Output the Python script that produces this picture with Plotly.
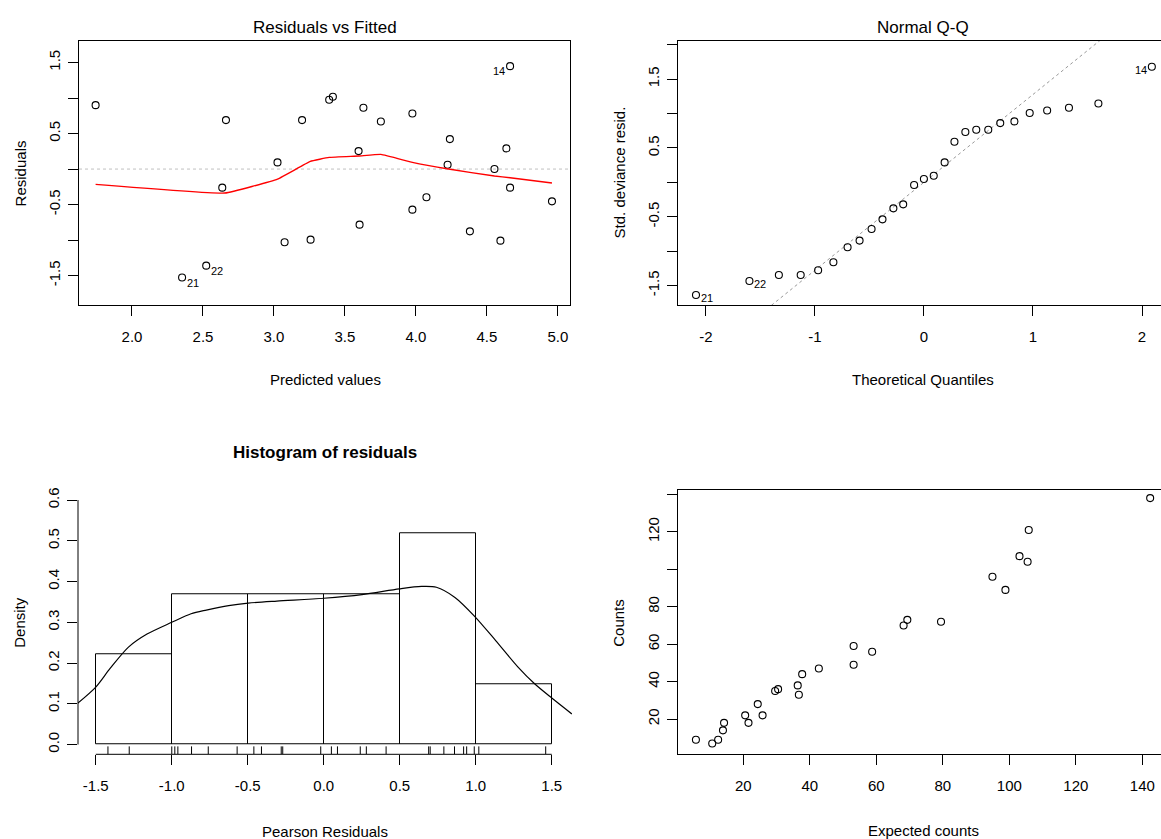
import plotly.graph_objects as go

# ---------------- data ----------------
# Panel 1: Residuals vs Fitted
fitted = [1.744, 2.662, 2.636, 2.353, 2.523, 3.025, 3.075, 3.198, 3.258, 3.389, 3.415,
          3.596, 3.603, 3.630, 3.753, 3.975, 3.975, 4.074, 4.239, 4.223, 4.380, 4.553,
          4.595, 4.637, 4.663, 4.663, 4.958]
resid = [0.90, 0.689, -0.262, -1.528, -1.36, 0.094, -1.031, 0.689, -0.994, 0.975, 1.017,
         0.253, -0.783, 0.863, 0.670, 0.783, -0.572, -0.398, 0.422, 0.061, -0.877, 0.0,
         -1.008, 0.291, 1.449, -0.262, -0.455]
resid_labels = {3: "21", 4: "22", 24: "14"}
smooth_x = [1.744, 2.654, 3.025, 3.256, 3.389, 3.596, 3.753, 3.975, 4.229, 4.553, 4.663, 4.958]
smooth_y = [-0.216, -0.338, -0.141, 0.108, 0.164, 0.183, 0.206, 0.094, 0.0, -0.098, -0.122, -0.197]

# Panel 2: Normal Q-Q
theo_q = [-2.09, -1.60, -1.33, -1.13, -0.97, -0.83, -0.70, -0.59, -0.48, -0.38, -0.28,
          -0.19, -0.09, 0.0, 0.09, 0.19, 0.28, 0.38, 0.48, 0.59, 0.70, 0.83, 0.97, 1.13,
          1.33, 1.60, 2.09]
std_resid = [-1.635, -1.432, -1.345, -1.345, -1.277, -1.161, -0.943, -0.846, -0.677,
             -0.537, -0.377, -0.319, -0.038, 0.049, 0.097, 0.290, 0.590, 0.731, 0.765,
             0.765, 0.861, 0.886, 1.007, 1.045, 1.084, 1.147, 1.679]
qq_labels = {0: "21", 1: "22", 26: "14"}
qqline_slope = 1.277
qqline_intercept = 0.0

# Panel 3: Histogram of residuals
bin_edges = [-1.5, -1.0, -0.5, 0.0, 0.5, 1.0, 1.5]
bin_density = [0.222, 0.370, 0.370, 0.370, 0.519, 0.148]
rug_vals = [-1.42, -1.28, -1.00, -0.98, -0.96, -0.87, -0.76, -0.57, -0.46, -0.41, -0.28,
            -0.27, -0.02, 0.05, 0.09, 0.24, 0.28, 0.41, 0.69, 0.70, 0.79, 0.86, 0.92,
            0.94, 0.99, 1.02, 1.46]
kde_x = [-1.62, -1.50, -1.407, -1.285, -1.163, -1.0, -0.873, -0.773, -0.626, -0.497,
         -0.309, 0.0, 0.251, 0.497, 0.643, 0.741, 0.863, 0.994, 1.131, 1.278, 1.387, 1.5, 1.632]
kde_y = [0.101, 0.141, 0.186, 0.239, 0.271, 0.300, 0.321, 0.330, 0.341, 0.347, 0.352,
         0.359, 0.368, 0.382, 0.388, 0.386, 0.361, 0.314, 0.255, 0.190, 0.149, 0.114, 0.075]

# Panel 4: Counts vs Expected counts
expected = [5.75, 10.65, 12.43, 13.88, 14.21, 20.56, 21.56, 24.34, 25.79, 29.57, 30.46,
            36.36, 36.70, 37.70, 42.71, 53.17, 53.17, 58.74, 68.20, 69.32, 79.45, 94.92,
            98.82, 103.05, 105.49, 105.83, 142.34]
counts = [9, 7, 9, 14, 18, 22, 18, 28, 22, 35, 36, 38, 33, 44, 47, 59, 49, 56, 70, 73, 72,
          96, 89, 107, 104, 121, 138]

# ticks
p1_xticks = [2.0, 2.5, 3.0, 3.5, 4.0, 4.5, 5.0]
p1_xtext = ["2.0", "2.5", "3.0", "3.5", "4.0", "4.5", "5.0"]
p1_yticks = [-1.5, -1.0, -0.5, 0.0, 0.5, 1.0, 1.5]
p1_ytext = ["-1.5", "", "-0.5", "", "0.5", "", "1.5"]
p2_xticks = [-2, -1, 0, 1, 2]
p2_xtext = ["-2", "-1", "0", "1", "2"]
p2_yticks = [-1.5, -1.0, -0.5, 0.0, 0.5, 1.0, 1.5, 2.0]
p2_ytext = ["-1.5", "", "-0.5", "", "0.5", "", "1.5", ""]
p3_xticks = [-1.5, -1.0, -0.5, 0.0, 0.5, 1.0, 1.5]
p3_xtext = ["-1.5", "-1.0", "-0.5", "0.0", "0.5", "1.0", "1.5"]
p3_yticks = [0.0, 0.1, 0.2, 0.3, 0.4, 0.5, 0.6]
p3_ytext = ["0.0", "0.1", "0.2", "0.3", "0.4", "0.5", "0.6"]
p4_xticks = [20, 40, 60, 80, 100, 120, 140]
p4_xtext = ["20", "40", "60", "80", "100", "120", "140"]
p4_yticks = [20, 40, 60, 80, 100, 120, 140]
p4_ytext = ["20", "40", "60", "80", "", "120", ""]

# ---------------- layout geometry ----------------
W, H = 1161, 839
FONT = "Liberation Sans, Arial, sans-serif"
TICK_SIZE = 15
LAB_SIZE = 15
TITLE_SIZE = 17


def px_x(p):
    return p / W


def px_y(p):
    return 1 - p / H


dom = {
    1: ([px_x(79), px_x(570)], [px_y(303), px_y(38)]),
    2: ([px_x(678), 1.0], [px_y(303), px_y(38)]),
    3: ([px_x(78), px_x(572)], [px_y(754), px_y(489)]),
    4: ([px_x(678), 1.0], [px_y(754), px_y(489)]),
}
ranges = {
    1: ([1.627, 5.085], [-1.913, 1.805]),
    2: ([-2.255, 2.174], [-1.78, 2.056]),
    3: ([-1.617, 1.633], [-0.024, 0.624]),
    4: ([0.36, 145.6], [1.2, 142.2]),
}

fig = go.Figure()
MK = dict(symbol="circle-open", size=7, color="black", line=dict(width=1.1, color="black"))

# Panel 1
fig.add_trace(go.Scatter(x=[ranges[1][0][0], ranges[1][0][1]], y=[0, 0], mode="lines",
                         line=dict(color="#c0c0c0", width=1, dash="dot"),
                         xaxis="x", yaxis="y", hoverinfo="skip"))
fig.add_trace(go.Scatter(x=fitted, y=resid, mode="markers", marker=MK, xaxis="x", yaxis="y"))
fig.add_trace(go.Scatter(x=smooth_x, y=smooth_y, mode="lines",
                         line=dict(color="red", width=1.4, shape="spline", smoothing=0.3),
                         xaxis="x", yaxis="y"))

# Panel 2
qx0, qx1 = ranges[2][0]
fig.add_trace(go.Scatter(x=[qx0, qx1],
                         y=[qqline_intercept + qqline_slope * qx0,
                            qqline_intercept + qqline_slope * qx1],
                         mode="lines", line=dict(color="#999999", width=1, dash="dot"),
                         xaxis="x2", yaxis="y2", hoverinfo="skip"))
fig.add_trace(go.Scatter(x=theo_q, y=std_resid, mode="markers", marker=MK,
                         xaxis="x2", yaxis="y2"))

# Panel 3
centers = [(bin_edges[i] + bin_edges[i + 1]) / 2 for i in range(len(bin_density))]
widths = [bin_edges[i + 1] - bin_edges[i] for i in range(len(bin_density))]
fig.add_trace(go.Bar(x=centers, y=bin_density, width=widths,
                     marker=dict(color="rgba(255,255,255,0)", line=dict(color="black", width=1)),
                     xaxis="x3", yaxis="y3"))
y3lo, y3hi = ranges[3][1]
rug_top = y3lo + 0.03 * (y3hi - y3lo)
rx, ry = [], []
for v in rug_vals:
    rx += [v, v, None]
    ry += [y3lo, rug_top, None]
fig.add_trace(go.Scatter(x=rx, y=ry, mode="lines", line=dict(color="black", width=1),
                         xaxis="x3", yaxis="y3", hoverinfo="skip"))
fig.add_trace(go.Scatter(x=kde_x, y=kde_y, mode="lines",
                         line=dict(color="black", width=1.2, shape="spline", smoothing=0.8),
                         xaxis="x3", yaxis="y3"))

# Panel 4
fig.add_trace(go.Scatter(x=expected, y=counts, mode="markers", marker=MK,
                         xaxis="x4", yaxis="y4"))


def axis(n, ax, tickvals, ticktext, mirror=True, showline=True):
    isx = ax == "x"
    return dict(domain=dom[n][0] if isx else dom[n][1],
                range=ranges[n][0] if isx else ranges[n][1],
                showgrid=False, zeroline=False, showline=showline, linecolor="black",
                linewidth=1, mirror=mirror, ticks="outside", ticklen=10, tickwidth=1,
                tickcolor="black", tickvals=tickvals, ticktext=ticktext,
                tickangle=0 if isx else -90,
                tickfont=dict(family=FONT, size=TICK_SIZE, color="black"),
                ticklabelstandoff=8 if isx else 2)


ann = []
# point labels
for i, t in resid_labels.items():
    left = fitted[i] > sum(fitted) / len(fitted)
    ann.append(dict(x=fitted[i], y=resid[i], xref="x", yref="y", text=t, showarrow=False,
                    xanchor="right" if left else "left", yanchor="middle",
                    xshift=-3 if left else 3, yshift=-5,
                    font=dict(family=FONT, size=11, color="black")))
for i, t in qq_labels.items():
    left = theo_q[i] > 0
    ann.append(dict(x=theo_q[i], y=std_resid[i], xref="x2", yref="y2", text=t, showarrow=False,
                    xanchor="right" if left else "left", yanchor="middle",
                    xshift=-3 if left else 3, yshift=-3,
                    font=dict(family=FONT, size=11, color="black")))


def txt(x, y, s, size=LAB_SIZE, angle=0, bold=False):
    ann.append(dict(x=px_x(x), y=px_y(y), xref="paper", yref="paper",
                    text=f"<b>{s}</b>" if bold else s, showarrow=False,
                    xanchor="center", yanchor="middle", textangle=angle,
                    font=dict(family=FONT, size=size, color="black")))


txt(325, 25, "Residuals vs Fitted", TITLE_SIZE)
txt(923, 25, "Normal Q-Q", TITLE_SIZE)
txt(325, 451, "Histogram of residuals", TITLE_SIZE, bold=True)
txt(325, 378, "Predicted values")
txt(923, 378, "Theoretical Quantiles")
txt(325, 831, "Pearson Residuals")
txt(923, 830, "Expected counts")
txt(20, 171, "Residuals", angle=-90)
txt(619, 170, "Std. deviance resid.", angle=-90)
txt(20, 622, "Density", angle=-90)
txt(619, 622, "Counts", angle=-90)

shapes = [
    # histogram axis lines (span tick range only)
    dict(type="line", xref="x3", yref="paper", x0=p3_xticks[0], x1=p3_xticks[-1],
         y0=dom[3][1][0], y1=dom[3][1][0], line=dict(color="black", width=1)),
    dict(type="line", xref="paper", yref="y3", x0=dom[3][0][0], x1=dom[3][0][0],
         y0=p3_yticks[0], y1=p3_yticks[-1], line=dict(color="black", width=1)),
]

fig.update_layout(
    width=W, height=H, margin=dict(l=0, r=0, t=0, b=0),
    paper_bgcolor="white", plot_bgcolor="white", showlegend=False,
    bargap=0,
    font=dict(family=FONT, color="black"),
    xaxis=dict(axis(1, "x", p1_xticks, p1_xtext), anchor="y"),
    yaxis=dict(axis(1, "y", p1_yticks, p1_ytext), anchor="x"),
    xaxis2=dict(axis(2, "x", p2_xticks, p2_xtext), anchor="y2"),
    yaxis2=dict(axis(2, "y", p2_yticks, p2_ytext, mirror=False), anchor="x2"),
    xaxis3=dict(axis(3, "x", p3_xticks, p3_xtext, mirror=False, showline=False), anchor="y3"),
    yaxis3=dict(axis(3, "y", p3_yticks, p3_ytext, mirror=False, showline=False), anchor="x3"),
    xaxis4=dict(axis(4, "x", p4_xticks, p4_xtext), anchor="y4"),
    yaxis4=dict(axis(4, "y", p4_yticks, p4_ytext, mirror=False), anchor="x4"),
    annotations=ann, shapes=shapes,
)

fig.write_html("out.html", config={"displayModeBar": False},
               post_script="document.body.style.margin='0';document.body.style.overflow='hidden';")
